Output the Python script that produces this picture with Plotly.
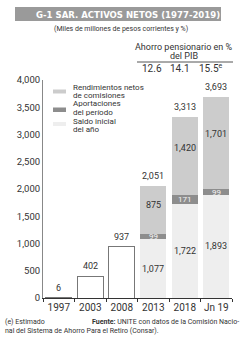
import plotly.graph_objects as go

# ---- data ----
categories = ["1997", "2003", "2008", "2013", "2018", "Jn 19"]
early_totals = [6, 402, 937, None, None, None]
saldo_inicial = [None, None, None, 1077, 1722, 1893]
aportaciones = [None, None, None, 99, 171, 99]
rendimientos = [None, None, None, 875, 1420, 1701]
totals = [6, 402, 937, 2051, 3313, 3693]
pib_pct = ["12.6", "14.1", "15.5<sup>e</sup>"]
pib_cats = ["2013", "2018", "Jn 19"]
series_names = [["Rendimientos netos", "de comisiones"], ["Aportaciones", "del período"], ["Saldo inicial", "del año"]]

W, H = 250, 337
L, R, T, B = 43, 18, 80, 39
PW, PH = W - L - R, H - T - B

def px(x):
    return (x - L) / PW

def py(y):
    return (H - B - y) / PH

C_SALDO = "#eeeeee"
C_APORT = "#8d8d8d"
C_REND = "#cccccc"
TXT = "#333333"
FONT = "Roboto"

fig = go.Figure()
fig.add_bar(x=categories, y=early_totals, marker=dict(color="white", line=dict(color="#777777", width=1)),
            showlegend=False, hoverinfo="skip")
fig.add_bar(x=categories, y=saldo_inicial, marker=dict(color=C_SALDO, line=dict(width=0)), showlegend=False)
fig.add_bar(x=categories, y=aportaciones, marker=dict(color=C_APORT, line=dict(width=0)), showlegend=False)
fig.add_bar(x=categories, y=rendimientos, marker=dict(color=C_REND, line=dict(width=0)), showlegend=False)

ann = []

def note(x, y, text, size, color=TXT, xa="center", ya="middle", family=FONT, xref="paper", yref="paper", **kw):
    ann.append(dict(x=x, y=y, xref=xref, yref=yref, text=text, showarrow=False, xanchor=xa, yanchor=ya,
                    align="left" if xa == "left" else "center", font=dict(size=size, color=color, family=family), **kw))

# totals above bars (category index positions)
for i, t in enumerate(totals):
    note(i, t, f"{t:,}", 9, ya="bottom", xref="x", yref="y", yshift=3)
# inside labels
for i, (s, a, r) in enumerate(zip(saldo_inicial, aportaciones, rendimientos)):
    if s is None:
        continue
    note(i, s / 2, f"{s:,}", 9, xref="x", yref="y")
    note(i, s + a / 2, f"{a:,}", 8, color="#f4f4f4", xref="x", yref="y")
    note(i, s + a + r * 0.6, f"{r:,}", 9, xref="x", yref="y")
# % of GDP values
xs_shift = [-1, -5, -5]
for i, (c, v) in enumerate(zip(pib_cats, pib_pct)):
    note(categories.index(c), py(68), v, 10, xref="x", xshift=xs_shift[i])
note(px(184), py(47), "Ahorro pensionario en %", 9)
note(px(184), py(56), "del PIB", 9)
# title and subtitle
note(px(128), py(14.5), "<b>G-1 SAR. ACTIVOS NETOS (1977-2019)</b>", 9.5, color="white",
     family="DejaVu Sans Condensed, Liberation Sans Narrow, Roboto")
note(px(121), py(29), "(Miles de millones de pesos corrientes y %)", 7)
# legend text
leg_y = [(87, 95), (103.5, 112), (121, 129.5)]
for name, (y1, y2) in zip(series_names, leg_y):
    note(px(71), py(y1), name[0], 8, xa="left")
    note(px(71), py(y2), name[1], 8, xa="left")
# footnote
note(px(3), py(322), "(e) Estimado", 7, xa="left")
note(px(90), py(322), "<b>Fuente:</b> UNITE con datos de la Comisión Nacio-", 7, xa="left")
note(px(3), py(331), "nal del Sistema de Ahorro Para el Retiro (Consar).", 7, xa="left")

shapes = [
    dict(type="rect", xref="paper", yref="paper", x0=px(15), x1=px(221), y0=py(7), y1=py(21),
         fillcolor="#9a9a9a", line=dict(width=0), layer="below"),
    dict(type="line", xref="paper", yref="paper", x0=px(137), x1=px(233), y0=py(62), y1=py(62),
         line=dict(color="#555555", width=1)),
]
leg_cols = [C_REND, C_APORT, C_SALDO]
for col, (y0, y1) in zip(leg_cols, [(89.5, 93.5), (107.5, 112), (122, 126)]):
    shapes.append(dict(type="rect", xref="paper", yref="paper", x0=px(53), x1=px(66), y0=py(y0), y1=py(y1),
                       fillcolor=col, line=dict(width=0)))

fig.update_layout(
    width=W, height=H, margin=dict(l=L, r=R, t=T, b=B),
    barmode="stack", bargap=0.17,
    plot_bgcolor="white", paper_bgcolor="white",
    annotations=ann, shapes=shapes, showlegend=False,
    xaxis=dict(type="category", range=[-0.5, 5.5], showline=True, linecolor="#333333", linewidth=1,
               ticks="outside", tickson="boundaries", ticklen=3, tickcolor="#333333",
               tickfont=dict(size=10, color=TXT, family=FONT), showgrid=False, tickangle=0),
    yaxis=dict(range=[0, 4000], tickvals=[0, 500, 1000, 1500, 2000, 2500, 3000, 3500, 4000],
               tickformat=",", showline=True, linecolor="#888888", linewidth=1, showgrid=False,
               zeroline=False, ticks="", tickfont=dict(size=9.5, color=TXT, family=FONT)),
)
fig.write_html("out.html")
